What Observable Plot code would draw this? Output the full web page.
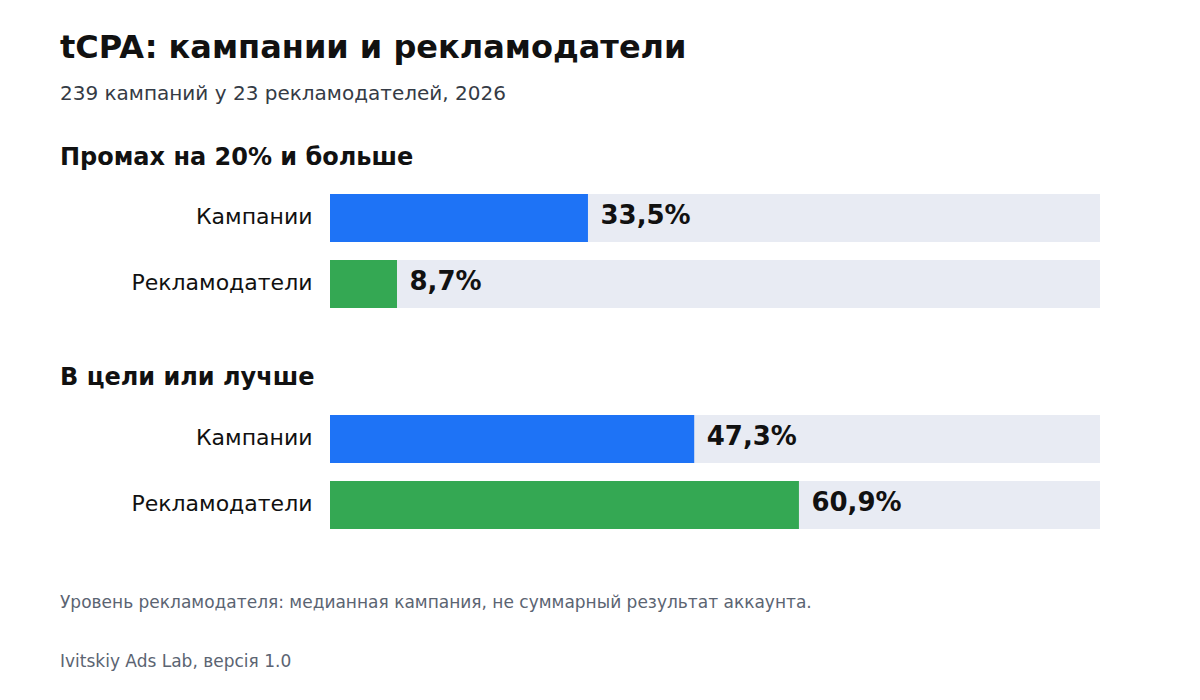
<!DOCTYPE html>
<html><head><meta charset="utf-8">
<script src="https://cdn.jsdelivr.net/npm/d3@7"></script>
<script src="https://cdn.jsdelivr.net/npm/@observablehq/plot@0.6"></script>
<style>
html,body{margin:0;padding:0;background:#fff;}
body{width:1200px;height:700px;position:relative;overflow:hidden;font-family:"DejaVu Sans",sans-serif;}
.t{position:absolute;left:60px;line-height:1;white-space:nowrap;}
.chart{position:absolute;left:0;}
</style></head>
<body>
<div class="t" id="title" style="font-size:32px;font-weight:bold;color:#111;"></div>
<div class="t" id="subtitle" style="font-size:20px;color:#353b45;"></div>
<div class="t" id="h1" style="font-size:24px;font-weight:bold;color:#111;"></div>
<div class="chart" id="c1"></div>
<div class="t" id="h2" style="font-size:24px;font-weight:bold;color:#111;"></div>
<div class="chart" id="c2"></div>
<div class="t" id="note" style="font-size:17px;color:#5b6472;"></div>
<div class="t" id="source" style="font-size:17px;color:#5b6472;"></div>
<script>
const title = "tCPA: кампании и рекламодатели";
const subtitle = "239 кампаний у 23 рекламодателей, 2026";
const sections = ["Промах на 20% и больше", "В цели или лучше"];
const categories = ["Кампании", "Рекламодатели"];
const missValues = [33.5, 8.7];
const onTargetValues = [47.3, 60.9];
const colors = ["#1e73f6", "#34a853"];
const note = "Уровень рекламодателя: медианная кампания, не суммарный результат аккаунта.";
const source = "Ivitskiy Ads Lab, версія 1.0";

function place(id, text, baseline, size) {
  const el = document.getElementById(id);
  el.textContent = text;
  el.style.top = (baseline - 0.846 * size) + "px";
}
place("title", title, 58, 32);
place("subtitle", subtitle, 100, 20);
place("h1", sections[0], 165, 24);
place("h2", sections[1], 385, 24);
place("note", note, 608, 17);
place("source", source, 667, 17);

const fmt = v => v.toFixed(1).replace(".", ",") + "%";

function chart(values) {
  const data = categories.map((c, i) => ({cat: c, value: values[i], color: colors[i]}));
  return Plot.plot({
    width: 1200, height: 134,
    marginLeft: 330, marginRight: 100, marginTop: 10, marginBottom: 10,
    style: {background: "transparent", fontFamily: "DejaVu Sans, sans-serif"},
    x: {domain: [0, 100], axis: null},
    y: {domain: categories, range: [10, 124], paddingInner: 18/66, paddingOuter: 0, label: null},
    marks: [
      Plot.barX(data, {y: "cat", x1: 0, x2: 100, fill: "#e8ebf3"}),
      Plot.barX(data, {y: "cat", x1: 0, x2: "value", fill: d => d.color}),
      Plot.text(data, {y: "cat", x: "value", text: d => fmt(d.value), textAnchor: "start", dx: 12, dy: -3,
        fontSize: 26, fontWeight: "bold", fill: "#111"}),
      Plot.axisY({tickSize: 0, tickPadding: 18, fontSize: 22, color: "#111", label: null, dy: -2})
    ]
  });
}
const c1 = document.getElementById("c1");
c1.style.top = "184px";
c1.appendChild(chart(missValues));
const c2 = document.getElementById("c2");
c2.style.top = "405px";
c2.appendChild(chart(onTargetValues));
</script>
</body></html>
